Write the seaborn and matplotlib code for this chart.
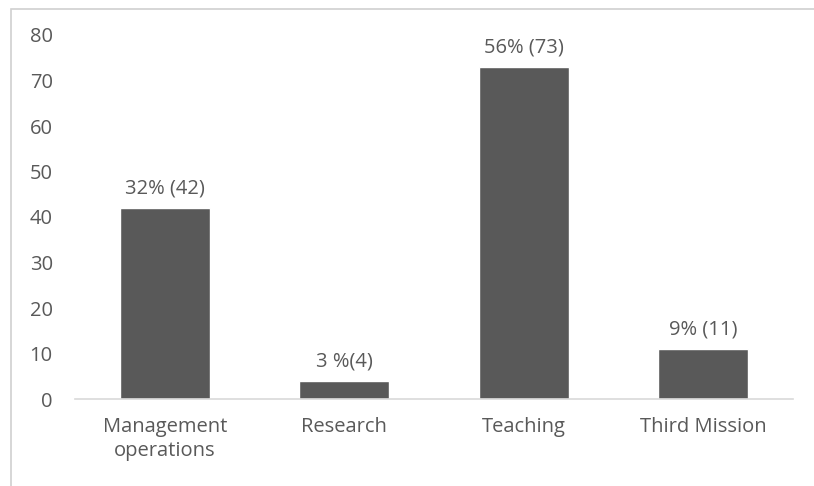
import matplotlib.pyplot as plt
import matplotlib.patches as mpatches
import pandas as pd
import seaborn as sns

# Data
categories = ['Management\noperations', 'Research', 'Teaching', 'Third Mission']
counts = [42, 4, 73, 11]
bar_labels = ['32% (42)', '3 %(4)', '56% (73)', '9% (11)']
y_ticks = [0, 10, 20, 30, 40, 50, 60, 70, 80]

sns.set_style('white')
plt.rcParams['font.family'] = ['Open Sans', 'DejaVu Sans']

df = pd.DataFrame({'category': categories, 'count': counts})

fig = plt.figure(figsize=(8.14, 4.86), dpi=100)
ax = fig.add_axes([75 / 814, 1 - 399 / 486, (793 - 75) / 814, (399 - 35) / 486])

sns.barplot(data=df, x='category', y='count', color='#595959', width=0.5,
            saturation=1, ax=ax)

text_color = '#595959'
fs = 14.5
ax.set_ylim(0, 80)
ax.set_xlim(-0.5, len(categories) - 0.5)
ax.set_yticks(y_ticks)
ax.set_xlabel('')
ax.set_ylabel('')

for s in ['top', 'right', 'left']:
    ax.spines[s].set_visible(False)
ax.spines['bottom'].set_color('#d9d9d9')
ax.spines['bottom'].set_linewidth(1.2)

ax.tick_params(axis='y', length=0, labelsize=fs, labelcolor=text_color, pad=16)
ax.tick_params(axis='x', which='major', length=0, labelsize=fs,
               labelcolor=text_color, pad=13)
for t in ax.get_xticklabels():
    t.set_linespacing(1.25)
ax.set_xticks([i - 0.5 for i in range(len(categories) + 1)], minor=True)
ax.tick_params(axis='x', which='minor', length=6, color='#d9d9d9', width=1.2)

for i, (v, lab) in enumerate(zip(counts, bar_labels)):
    ax.annotate(lab, (i, v), xytext=(0, 7), textcoords='offset points',
                ha='center', va='bottom', fontsize=fs, color=text_color)

# chart area border (cropped on right and bottom)
fig.patches.append(mpatches.Rectangle((11 / 814, -0.1), 1.2, 1 - 9 / 486 + 0.1,
                                      transform=fig.transFigure, fill=False,
                                      edgecolor='#d0d0d0', linewidth=1.2))

fig.savefig('out.png', dpi=100)
